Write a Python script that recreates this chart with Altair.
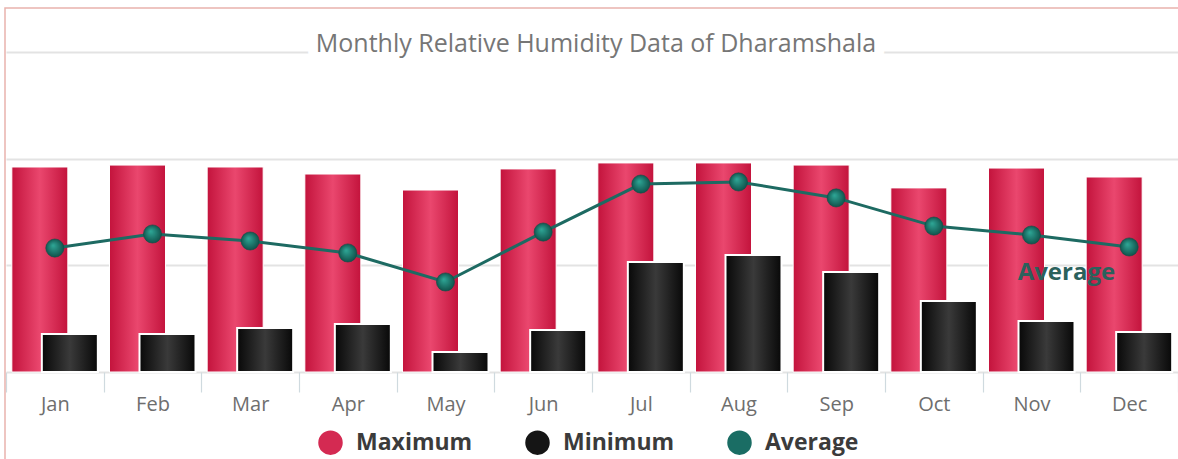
import altair as alt
import pandas as pd

# Monthly relative humidity (%) for Dharamshala
months = ["Jan", "Feb", "Mar", "Apr", "May", "Jun", "Jul", "Aug", "Sep", "Oct", "Nov", "Dec"]
max_rh = [96.1, 97.0, 96.1, 92.8, 85.3, 95.2, 98.0, 98.0, 97.0, 86.3, 95.6, 91.4]
min_rh = [17.8, 17.8, 20.6, 22.5, 9.4, 19.7, 51.6, 54.8, 46.9, 33.3, 23.9, 18.8]
avg_rh = [58.1, 64.7, 61.4, 55.8, 42.2, 65.6, 88.1, 89.1, 81.6, 68.4, 64.2, 58.6]

series = ["Maximum", "Minimum", "Average"]
series_colors = ["#d42a52", "#151515", "#1a6d64"]
grid_values = [0, 50, 100, 150]
title_text = "Monthly Relative Humidity Data of Dharamshala"

df = pd.DataFrame({"month": months, "Maximum": max_rh, "Minimum": min_rh, "Average": avg_rh})
long_df = df.melt(id_vars="month", value_vars=series, var_name="series", value_name="value")

W, H = 1172, 320
FONT = "Open Sans"

x_enc = alt.X(
    "month:N",
    sort=months,
    scale=alt.Scale(paddingInner=0, paddingOuter=0),
    axis=alt.Axis(
        title=None, labelAngle=0, labelFont=FONT, labelFontSize=20, labelColor="#6e6e6e",
        tickBand="extent", tickSize=20, tickColor="#cfdadf", tickWidth=1.2,
        domain=False, grid=False, labelPadding=2,
    ),
)
y_scale = alt.Scale(domain=[0, 150], nice=False, zero=True)
y_axis = alt.Axis(
    title=None, labels=False, ticks=False, domain=False, grid=True,
    values=grid_values, gridColor="#e3e3e3", gridWidth=2,
)


def y_enc(field):
    return alt.Y(field, type="quantitative", scale=y_scale, axis=y_axis)


def linear(c_edge, c_mid):
    return {
        "gradient": "linear", "x1": 0, "y1": 0, "x2": 1, "y2": 0,
        "stops": [
            {"offset": 0, "color": c_edge},
            {"offset": 0.5, "color": c_mid},
            {"offset": 1, "color": c_edge},
        ],
    }


max_fill = linear("#c3133c", "#ea476e")
min_fill = linear("#080808", "#3a3a3a")
dot_fill = {
    "gradient": "radial", "x1": 0.4, "y1": 0.35, "r1": 0, "x2": 0.5, "y2": 0.5, "r2": 0.55,
    "stops": [{"offset": 0, "color": "#2fa898"}, {"offset": 1, "color": "#0e4d46"}],
}

base = alt.Chart(df)
one_row = alt.Data(values=[{}])

frame = alt.Chart(one_row).mark_rect(fillOpacity=0, stroke="#e9b3ad", strokeWidth=1.5).encode(
    x=alt.value(-1), x2=alt.value(1300), y=alt.value(-44), y2=alt.value(600)
)

max_bars = base.mark_bar(width=56, xOffset=-15, color=max_fill, stroke="white", strokeWidth=1).encode(
    x=x_enc, y=y_enc("Maximum")
)
min_bars = base.mark_bar(width=56, xOffset=15, color=min_fill, stroke="white", strokeWidth=2).encode(
    x=x_enc, y=y_enc("Minimum")
)
avg_line = base.mark_line(color="#1d6a62", strokeWidth=3).encode(x=x_enc, y=y_enc("Average"))
avg_dots = base.mark_circle(size=330, opacity=1, color=dot_fill, stroke="#0f4f48", strokeWidth=0.6).encode(
    x=x_enc, y=y_enc("Average")
)
avg_label = base.transform_filter(alt.datum.month == months[-1]).mark_text(
    text=series[2], align="right", baseline="middle", dx=-14, dy=26,
    font=FONT, fontSize=24, fontWeight="bold", color="#2b615c",
).encode(x=x_enc, y=y_enc("Average"))

# Title sits on the top gridline; a white halo hides the line behind the text
title_halo = alt.Chart(one_row).mark_text(
    text=title_text, font=FONT, fontSize=25, align="center", baseline="alphabetic",
    color="white", stroke="white", strokeWidth=20, strokeJoin="round",
).encode(x=alt.value(590), y=alt.value(0))
title = alt.Chart(one_row).mark_text(
    text=title_text, font=FONT, fontSize=25, align="center", baseline="alphabetic", color="#767676",
).encode(x=alt.value(590), y=alt.value(0))

# Legend driven by the series colour scale (no visible marks of its own)
legend_layer = alt.Chart(long_df).transform_filter(alt.datum.value < 0).mark_circle(opacity=1).encode(
    x=x_enc,
    y=y_enc("value"),
    color=alt.Color(
        "series:N",
        scale=alt.Scale(domain=series, range=series_colors),
        legend=alt.Legend(
            orient="none", legendX=312, legendY=378, direction="horizontal", title=None,
            symbolType="circle", symbolSize=600, symbolStrokeWidth=0, symbolOpacity=1,
            labelFont=FONT, labelFontSize=23, labelFontWeight="bold", labelColor="#3b3b3b",
            labelOffset=13, columnPadding=52, padding=0,
        ),
    ),
)

chart = (
    alt.layer(frame, max_bars, min_bars, avg_line, avg_dots, avg_label, title_halo, title, legend_layer)
    .properties(
        width=W, height=H,
        autosize=alt.AutoSizeParams(type="none"),
        padding={"left": 6, "top": 52, "right": 0, "bottom": 87},
        background="white",
    )
    .configure_view(stroke=None)
)

chart.save("out.html", embed_options={"renderer": "svg", "actions": False})
